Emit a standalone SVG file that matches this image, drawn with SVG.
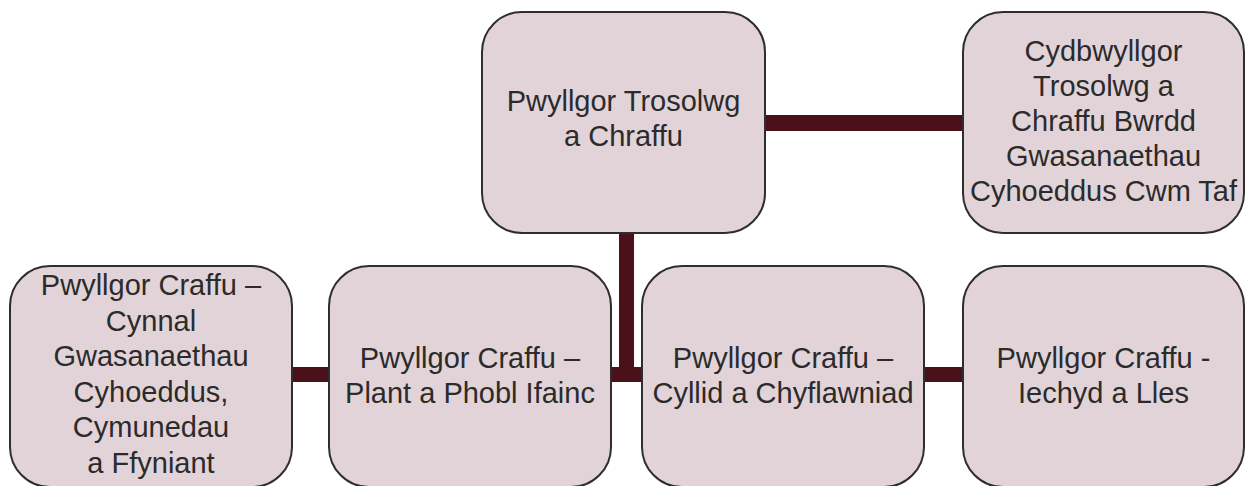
<svg xmlns="http://www.w3.org/2000/svg" width="1246" height="486" viewBox="0 0 1246 486">
<style>
.box{fill:#e2d3d8;stroke:#2e2e2e;stroke-width:2}
.conn{stroke:#4a111a;fill:none}
text{font-family:"Liberation Sans",Arial,sans-serif;font-size:29px;fill:#2b2b2b;text-anchor:middle}
</style>
<rect width="1246" height="486" fill="#ffffff"/>
<g id="connectors">
<line class="conn" x1="764" y1="123" x2="964" y2="123" stroke-width="16"/>
<line class="conn" x1="626.5" y1="231" x2="626.5" y2="382" stroke-width="15"/>
<line class="conn" x1="291" y1="374.5" x2="964" y2="374.5" stroke-width="15"/>
</g>
<g id="node-trosolwg">
<rect class="box" x="482" y="12" width="283" height="221" rx="40"/>
<text x="623.5" y="111">Pwyllgor Trosolwg</text>
<text x="623.5" y="146">a Chraffu</text>
</g>
<g id="node-cydbwyllgor">
<rect class="box" x="963" y="12" width="281" height="221" rx="40"/>
<text x="1103.5" y="61">Cydbwyllgor</text>
<text x="1103.5" y="96">Trosolwg a</text>
<text x="1103.5" y="131">Chraffu Bwrdd</text>
<text x="1103.5" y="166">Gwasanaethau</text>
<text x="1103.5" y="201">Cyhoeddus Cwm Taf</text>
</g>
<g id="node-cynnal">
<rect class="box" x="10" y="266" width="282" height="221" rx="40"/>
<text x="151" y="295">Pwyllgor Craffu –</text>
<text x="151" y="330.5">Cynnal</text>
<text x="151" y="366">Gwasanaethau</text>
<text x="151" y="401.5">Cyhoeddus,</text>
<text x="151" y="437">Cymunedau</text>
<text x="151" y="472.5">a Ffyniant</text>
</g>
<g id="node-plant">
<rect class="box" x="329" y="266" width="282" height="221" rx="40"/>
<text x="470" y="368">Pwyllgor Craffu –</text>
<text x="470" y="403">Plant a Phobl Ifainc</text>
</g>
<g id="node-cyllid">
<rect class="box" x="642" y="266" width="282" height="221" rx="40"/>
<text x="783" y="368">Pwyllgor Craffu –</text>
<text x="783" y="403">Cyllid a Chyflawniad</text>
</g>
<g id="node-iechyd">
<rect class="box" x="963" y="266" width="281" height="221" rx="40"/>
<text x="1103.5" y="368">Pwyllgor Craffu -</text>
<text x="1103.5" y="403">Iechyd a Lles</text>
</g>
</svg>
